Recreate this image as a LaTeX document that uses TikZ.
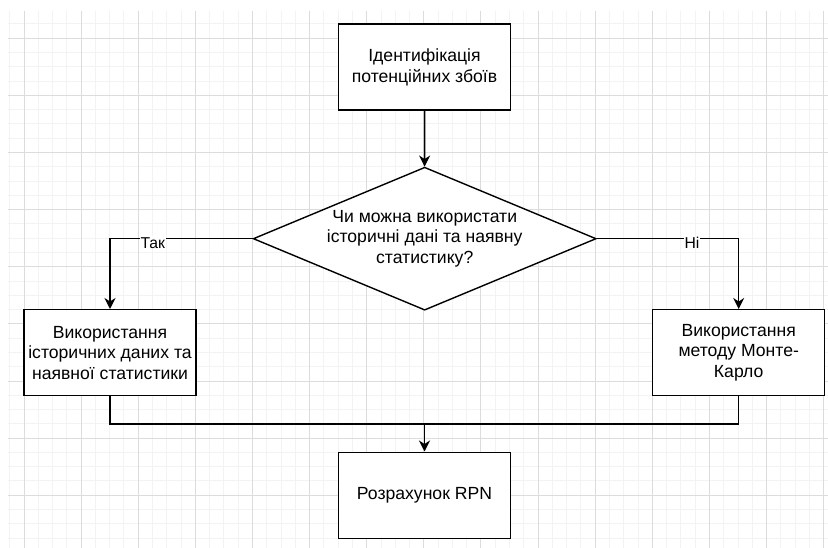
\documentclass[tikz,border=0pt]{standalone}
\usepackage{fontspec}
\setmainfont{Liberation Sans}
\usepackage{xcolor}
\usepackage{tikz}
\usetikzlibrary{shapes.geometric, arrows.meta}
\definecolor{gridminor}{RGB}{243, 243, 243}
\definecolor{gridmajor}{RGB}{220, 220, 220}
\definecolor{inkblack}{RGB}{0, 0, 0}
\tikzset{
    procbox/.style={draw=inkblack, line width=1.4pt, fill=white, rectangle,
        minimum width=172, minimum height=86, inner sep=0pt, align=center,
        font=\fontsize{17.6pt}{20.6pt}\selectfont},
    decision/.style={draw=inkblack, line width=1.4pt, fill=white, diamond,
        shape aspect=2.4, minimum width=343, minimum height=143, inner sep=0pt,
        align=center, font=\fontsize{17.6pt}{20.6pt}\selectfont},
    flowline/.style={draw=inkblack, line width=1.4pt},
    flowarrow/.style={flowline, -{Stealth[length=11pt, width=11pt, inset=3.5pt]}},
    edgelabel/.style={fill=white, inner sep=1pt, yshift=-4pt,
        font=\fontsize{15.7pt}{18pt}\selectfont}
}

\begin{document}
\begin{tikzpicture}[x=1pt, y=-1pt]
    \useasboundingbox (0,0) rectangle (828,548);

    % Grid paper
    \fill[white] (0,0) rectangle (828,548);
    \foreach \i in {0,...,57}
        \draw[gridminor, line width=1pt] ({9.72+14.28*\i},11) -- ++(0,537);
    \foreach \j in {1,...,37}
        \draw[gridminor, line width=1pt] (8,{9.72+14.28*\j}) -- ++(820,0);
    \foreach \i in {0,...,14}
        \draw[gridmajor, line width=1pt] ({24+57.12*\i},11) -- ++(0,537);
    \foreach \j in {0,...,8}
        \draw[gridmajor, line width=1pt] (8,{38.28+57.12*\j}) -- ++(820,0);

    % Steps
    \node[procbox] (ident) at (424.5, 67.2) {Ідентифікація\\потенційних збоїв};
    \node[decision] (choice) at (424.7, 238.7) {Чи можна використати\\історичні дані та наявну\\статистику?};
    \node[procbox] (history) at (110, 352.7) {Використання\\історичних даних та\\наявної статистики};
    \node[procbox] (montecarlo) at (738.7, 352.7) {Використання\\методу Монте-\\Карло};
    \node[procbox] (rpn) at (424.5, 495.2) {Розрахунок RPN};
    \coordinate (merge) at (424.5, 424);

    % Connectors
    \draw[flowarrow] (ident) -- (choice);
    \draw[flowarrow] (choice.west) -| node[edgelabel, pos=0.35] (yeslbl) {Так} (history.north);
    \draw[flowarrow] (choice.east) -| node[edgelabel, pos=0.335] (nolbl) {Ні} (montecarlo.north);
    \draw[flowline] (history.south) |- (merge);
    \draw[flowline] (montecarlo.south) |- (merge);
    \draw[flowarrow] (merge) -- (rpn);
\end{tikzpicture}
\end{document}
